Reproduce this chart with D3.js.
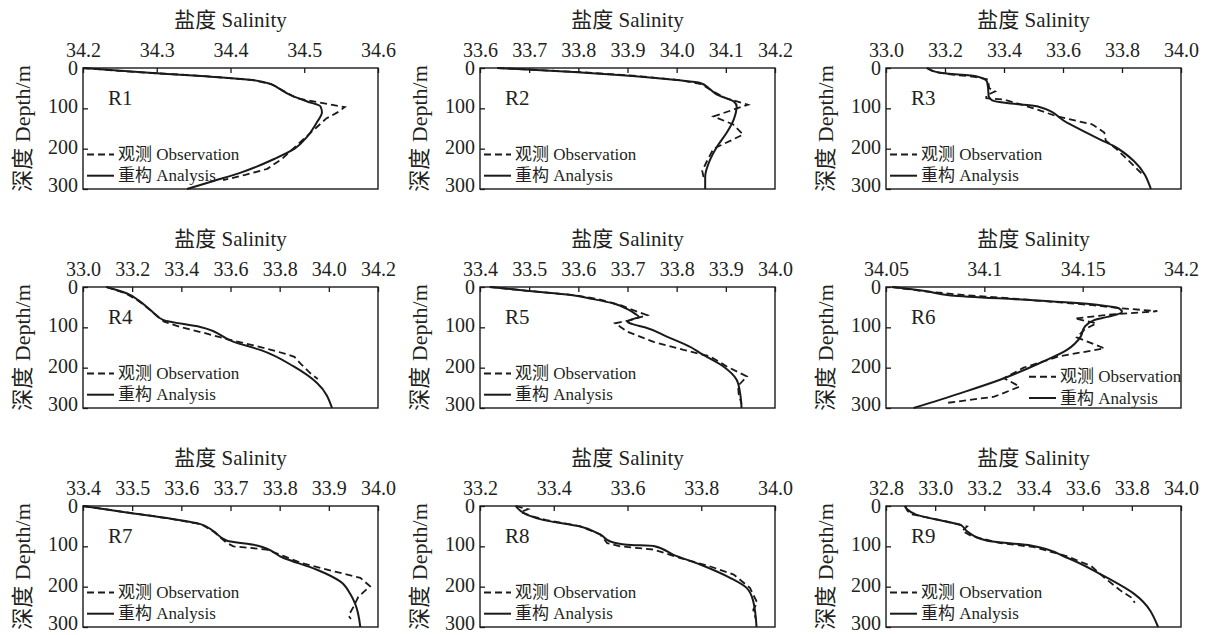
<!DOCTYPE html>
<html>
<head>
<meta charset="utf-8">
<script src="https://cdn.jsdelivr.net/npm/d3@7"></script>
<style>
    body { margin: 0; background: #fff; }
    svg text { font-family: 'Liberation Serif', 'Times New Roman', Times, 'DejaVu Serif', 'Noto Serif', 'Noto Sans CJK SC', serif; fill: #231f20; }
</style>
</head>
<body>
<svg id="chart" width="1206" height="635"></svg>
<script>
'use strict';

// region names and x tick labels per panel
var regions = ['R1', 'R2', 'R3', 'R4', 'R5', 'R6', 'R7', 'R8', 'R9'];
var xTickLabels = [
    ['34.2', '34.3', '34.4', '34.5', '34.6'],
    ['33.6', '33.7', '33.8', '33.9', '34.0', '34.1', '34.2'],
    ['33.0', '33.2', '33.4', '33.6', '33.8', '34.0'],
    ['33.0', '33.2', '33.4', '33.6', '33.8', '34.0', '34.2'],
    ['33.4', '33.5', '33.6', '33.7', '33.8', '33.9', '34.0'],
    ['34.05', '34.1', '34.15', '34.2'],
    ['33.4', '33.5', '33.6', '33.7', '33.8', '33.9', '34.0'],
    ['33.2', '33.4', '33.6', '33.8', '34.0'],
    ['32.8', '33.0', '33.2', '33.4', '33.6', '33.8', '34.0']
];
var depthTicks = [0, 100, 200, 300];

// [depth, salinity]
var anaR1 = [[0,34.20],[10,34.275],[20,34.36],[30,34.43],[40,34.455],[50,34.465],[66,34.48],[83,34.504],[95,34.522],[110,34.524],[135,34.517],[170,34.504],[200,34.487],[225,34.46],[260,34.413],[280,34.377],[300,34.341]];
var obsR1 = [[0,34.20],[10,34.27],[20,34.365],[30,34.43],[40,34.455],[50,34.465],[75,34.49],[97,34.555],[110,34.545],[125,34.53],[150,34.515],[175,34.5],[200,34.485],[225,34.47],[250,34.45],[265,34.42],[278,34.39]];
var anaR2 = [[0,33.635],[10,33.79],[20,33.91],[30,34.0],[37,34.048],[50,34.065],[66,34.082],[83,34.116],[95,34.122],[128,34.116],[160,34.102],[195,34.082],[227,34.068],[270,34.058],[300,34.058]];
var obsR2 = [[0,33.635],[10,33.80],[20,33.92],[30,34.005],[40,34.05],[55,34.07],[75,34.10],[91,34.145],[120,34.075],[140,34.115],[165,34.135],[180,34.11],[200,34.075],[230,34.062],[255,34.052],[272,34.055]];
var anaR3 = [[0,33.138],[12,33.184],[21,33.308],[33,33.342],[50,33.346],[70,33.348],[80,33.36],[87,33.41],[95,33.512],[136,33.615],[178,33.728],[194,33.773],[231,33.841],[300,33.898]];
var obsR3 = [[0,33.14],[10,33.165],[15,33.21],[22,33.30],[28,33.345],[50,33.35],[58,33.37],[68,33.34],[75,33.34],[78,33.40],[100,33.50],[120,33.58],[140,33.70],[160,33.74],[180,33.745],[200,33.78],[235,33.83],[260,33.864],[270,33.87]];
var anaR4 = [[0,33.095],[16,33.179],[33,33.226],[60,33.28],[82,33.328],[99,33.477],[136,33.613],[156,33.721],[197,33.857],[238,33.952],[300,34.013]];
var obsR4 = [[0,33.095],[16,33.175],[33,33.222],[60,33.28],[86,33.33],[100,33.40],[115,33.50],[130,33.59],[140,33.66],[150,33.73],[165,33.82],[173,33.86],[190,33.885],[214,33.925],[228,33.955]];
var anaR5 = [[0,33.42],[10,33.50],[20,33.585],[30,33.63],[41,33.672],[55,33.70],[66,33.715],[74,33.723],[80,33.71],[86,33.70],[92,33.71],[100,33.735],[123,33.78],[150,33.83],[164,33.848],[197,33.895],[230,33.922],[263,33.929],[300,33.932]];
var obsR5 = [[0,33.42],[10,33.50],[20,33.59],[30,33.64],[45,33.686],[55,33.706],[70,33.74],[82,33.706],[90,33.675],[111,33.70],[136,33.753],[156,33.814],[172,33.868],[197,33.902],[222,33.943],[245,33.925],[265,33.926],[290,33.932]];
var anaR6 = [[0,34.053],[10,34.07],[21,34.083],[33,34.125],[45,34.159],[53,34.1685],[62,34.170],[74,34.1626],[82,34.1558],[99,34.151],[123,34.149],[156,34.142],[189,34.128],[230,34.108],[263,34.088],[300,34.064]];
var obsR6 = [[0,34.053],[10,34.068],[20,34.09],[30,34.118],[45,34.155],[52,34.168],[60,34.188],[68,34.165],[78,34.146],[90,34.157],[105,34.151],[125,34.147],[152,34.161],[172,34.138],[200,34.12],[226,34.11],[247,34.118],[272,34.105],[288,34.08]];
var anaR7 = [[0,33.40],[16,33.489],[30,33.571],[45,33.639],[63,33.666],[86,33.693],[98,33.754],[129,33.808],[158,33.876],[187,33.923],[219,33.944],[244,33.954],[300,33.964]];
var obsR7 = [[0,33.40],[16,33.49],[30,33.57],[45,33.64],[63,33.665],[92,33.693],[100,33.706],[108,33.774],[125,33.81],[141,33.844],[162,33.91],[178,33.964],[199,33.984],[225,33.96],[250,33.95],[272,33.94],[280,33.945]];
var anaR8 = [[0,33.297],[22,33.328],[35,33.373],[51,33.472],[71,33.527],[88,33.554],[96,33.599],[99,33.671],[121,33.725],[145,33.797],[178,33.878],[203,33.923],[236,33.941],[300,33.95]];
var obsR8 = [[0,33.297],[8,33.33],[15,33.31],[25,33.34],[35,33.38],[50,33.47],[70,33.525],[92,33.545],[100,33.58],[108,33.671],[129,33.743],[150,33.825],[170,33.888],[203,33.932],[240,33.952],[257,33.941],[280,33.948]];
var anaR9 = [[0,32.875],[22,32.925],[39,33.048],[47,33.103],[63,33.13],[86,33.212],[98,33.389],[129,33.539],[170,33.675],[219,33.812],[300,33.907]];
var obsR9 = [[0,32.88],[10,32.885],[20,32.90],[30,32.98],[39,33.05],[51,33.13],[62,33.11],[75,33.15],[92,33.266],[102,33.403],[125,33.539],[149,33.635],[178,33.689],[211,33.757],[227,33.798],[240,33.812]];

var analysis = [anaR1, anaR2, anaR3, anaR4, anaR5, anaR6, anaR7, anaR8, anaR9];
var observation = [obsR1, obsR2, obsR3, obsR4, obsR5, obsR6, obsR7, obsR8, obsR9];

// layout
var colLeft = [83, 480, 886];
var rowTop = [68, 287, 506];
var w = 295, h = 121;
var ink = '#1a1a1a';
var serif = "'Liberation Serif', 'Times New Roman', Times, 'DejaVu Serif', 'Noto Serif', 'Noto Sans CJK SC', serif";

var svg = d3.select('#chart');

regions.forEach(function(name, i) {
    var left = colLeft[i % 3], top = rowTop[Math.floor(i / 3)];
    var ticks = xTickLabels[i].map(Number);
    var x = d3.scaleLinear().domain(d3.extent(ticks)).range([0, w]);
    var y = d3.scaleLinear().domain([0, 300]).range([0, h]);

    var g = svg.append('g')
        .attr('transform', 'translate(' + left + ',' + top + ')')
        .attr('font-family', serif);

    var xAxis = g.append('g')
        .call(d3.axisTop(x).tickValues(ticks).tickSizeInner(-5).tickSizeOuter(0).tickPadding(11)
            .tickFormat(function(d, k) { return xTickLabels[i][k]; }));
    xAxis.attr('font-family', serif).attr('font-size', 20);
    xAxis.select('.domain').remove();
    xAxis.selectAll('line').attr('stroke', ink).attr('stroke-width', 1.3);
    xAxis.selectAll('text').attr('fill', ink);

    var yAxis = g.append('g')
        .call(d3.axisLeft(y).tickValues(depthTicks).tickSizeInner(-5).tickSizeOuter(0).tickPadding(5));
    yAxis.attr('font-family', serif).attr('font-size', 20);
    yAxis.select('.domain').remove();
    yAxis.selectAll('line').attr('stroke', ink).attr('stroke-width', 1.3);
    yAxis.selectAll('text').attr('fill', ink)
        .attr('dy', function(d) { return d === 0 ? '0.34em' : (d === 300 ? '0.12em' : '0.22em'); });

    g.append('rect')
        .attr('width', w).attr('height', h)
        .attr('fill', 'none').attr('stroke', ink).attr('stroke-width', 1.4);

    g.append('text')
        .attr('x', w / 2).attr('y', -41)
        .attr('text-anchor', 'middle')
        .attr('font-size', 21)
        .text('盐度 Salinity');

    g.append('text')
        .attr('transform', 'translate(' + (-61) + ',' + (h / 2) + ') rotate(-90)')
        .attr('text-anchor', 'middle')
        .attr('dominant-baseline', 'central')
        .attr('font-size', 22)
        .text('深度 Depth/m');

    g.append('text')
        .attr('x', 25).attr('y', 37)
        .attr('font-size', 21)
        .text(name);

    var line = d3.line()
        .x(function(d) { return x(d[1]); })
        .y(function(d) { return y(d[0]); });

    g.append('path')
        .datum(observation[i])
        .attr('d', line)
        .attr('fill', 'none').attr('stroke', ink).attr('stroke-width', 1.8)
        .attr('stroke-dasharray', '7,4');

    g.append('path')
        .datum(analysis[i])
        .attr('d', line.curve(d3.curveMonotoneY))
        .attr('fill', 'none').attr('stroke', ink).attr('stroke-width', 2);

    // legend
    var lx = i === 5 ? 143 : 4;
    var ly = i === 5 ? [89.7, 111] : [86.5, 107.7];
    var items = [{label: '观测 Observation', dash: '7,4'}, {label: '重构 Analysis', dash: null}];
    items.forEach(function(it, k) {
        g.append('line')
            .attr('x1', lx).attr('x2', lx + 27)
            .attr('y1', ly[k]).attr('y2', ly[k])
            .attr('stroke', ink).attr('stroke-width', 2)
            .attr('stroke-dasharray', it.dash);
        g.append('text')
            .attr('x', lx + 31).attr('y', ly[k])
            .attr('dominant-baseline', 'central')
            .attr('font-size', 17)
            .text(it.label);
    });
});
</script>
</body>
</html>
